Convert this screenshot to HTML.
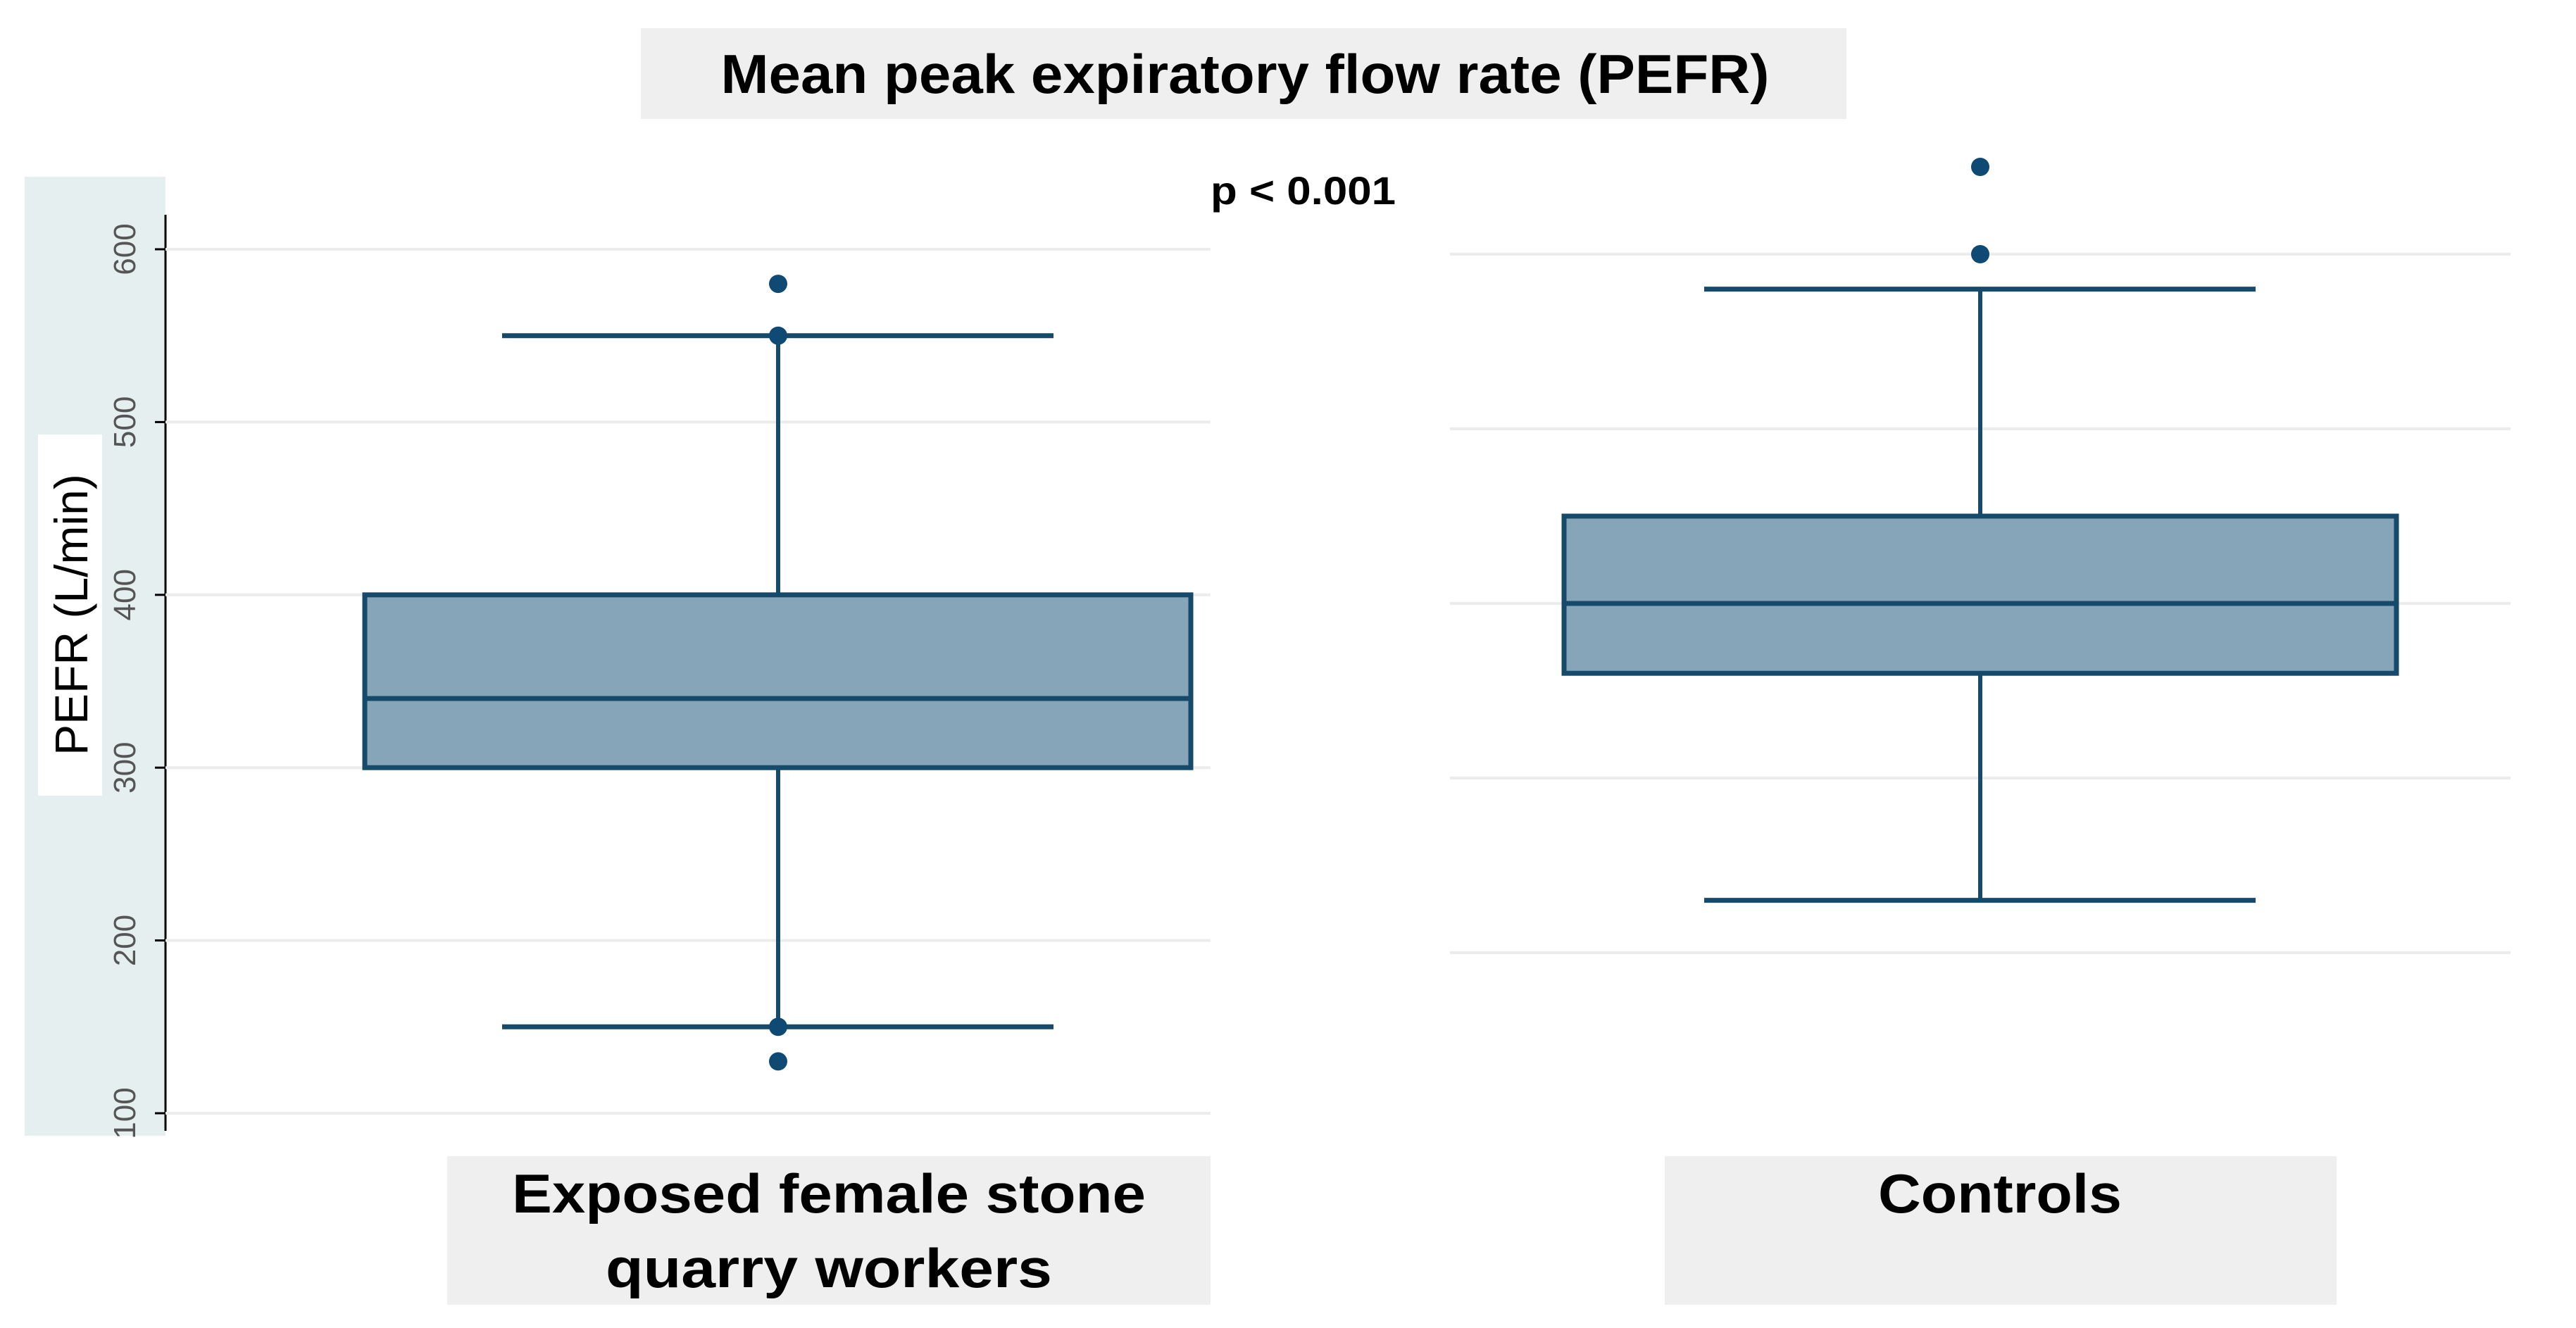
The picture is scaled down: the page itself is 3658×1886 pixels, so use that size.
<!DOCTYPE html>
<html><head><meta charset="utf-8"><style>
html,body{margin:0;padding:0;background:#fff;}
svg{display:block;font-family:"Liberation Sans",sans-serif;}
</style></head><body>
<svg id="chart" width="3658" height="1886" viewBox="0 0 3658 1886" xmlns="http://www.w3.org/2000/svg">
<rect x="910" y="40" width="1712" height="129" fill="#efefef"/>
<text x="1768" y="132" text-anchor="middle" font-size="78" font-weight="bold" textLength="1489" lengthAdjust="spacingAndGlyphs">Mean peak expiratory flow rate (PEFR)</text>
<text x="1719" y="290" font-size="56" font-weight="bold" textLength="263" lengthAdjust="spacingAndGlyphs">p &lt; 0.001</text>
<rect x="35" y="251" width="200" height="1362" fill="#e6eff0"/>
<rect x="54" y="617" width="91" height="513" fill="#ffffff"/>
<text transform="translate(124,873) rotate(-90)" text-anchor="middle" font-size="66">PEFR (L/min)</text>
<line x1="235" y1="305" x2="235" y2="1606" stroke="#000" stroke-width="3"/>
<g id="grid"></g>
<g id="marks"></g>
<rect x="635" y="1642" width="1084" height="211" fill="#efefef"/>
<text x="1177" y="1722" text-anchor="middle" font-size="78" font-weight="bold" textLength="900" lengthAdjust="spacingAndGlyphs">Exposed female stone</text>
<text x="1177" y="1828" text-anchor="middle" font-size="78" font-weight="bold" textLength="634" lengthAdjust="spacingAndGlyphs">quarry workers</text>
<rect x="2364" y="1642" width="954" height="211" fill="#efefef"/>
<text x="2840" y="1722" text-anchor="middle" font-size="78" font-weight="bold" textLength="346" lengthAdjust="spacingAndGlyphs">Controls</text>
</svg>
<script>
const ticks = [100, 200, 300, 400, 500, 600];
const rightGrid = [200, 300, 400, 500, 600];
const groups = ["Exposed", "Controls"];
const q1Vals = [300, 360];
const medVals = [340, 400];
const q3Vals = [400, 450];
const whiskLo = [150, 230];
const whiskHi = [550, 580];
const outliersExposed = [580, 550, 150, 130];
const outliersControls = [650, 600];

const NS = "http://www.w3.org/2000/svg";
function yL(v){ return 1581 - (v - 100) * 2.454; }
function yR(v){ return 361 + (600 - v) * 2.48; }
const panels = [
  {y: yL, cx: 1105, bx0: 518, bx1: 1691, c0: 713, c1: 1496, outs: outliersExposed},
  {y: yR, cx: 2812, bx0: 2221, bx1: 3403, c0: 2420, c1: 3203, outs: outliersControls}
];
function mk(tag, attrs, parent){
  const e = document.createElementNS(NS, tag);
  for (const k in attrs) e.setAttribute(k, attrs[k]);
  parent.appendChild(e);
  return e;
}
const grid = document.getElementById('grid');
const marks = document.getElementById('marks');
ticks.forEach(t => {
  const l = mk('line', {x1: 235, x2: 1719, y1: yL(t), y2: yL(t), stroke: '#ececec', 'stroke-width': 4}, grid);
  
  
  const tk = mk('line', {x1: 220, x2: 235, y1: yL(t), y2: yL(t), stroke: '#000', 'stroke-width': 3}, grid);
  
  
  const tx = mk('text', {transform: 'translate(192,' + yL(t) + ') rotate(-90)', 'text-anchor': 'middle', 'font-size': 44, fill: '#555'}, grid);
  tx.textContent = t;
  
  
});
rightGrid.forEach(t => {
  const l = mk('line', {x1: 2059, x2: 3565, y1: yR(t), y2: yR(t), stroke: '#ececec', 'stroke-width': 4}, grid);
  
  
});
const dark = '#164a6b';
panels.forEach((p, i) => {
  const g = mk('g', {}, marks);
  
  
  const w1 = mk('line', {x1: p.cx, x2: p.cx, y1: p.y(whiskHi[i]), y2: p.y(q3Vals[i]), stroke: dark, 'stroke-width': 6}, g);
  
  
  const w2 = mk('line', {x1: p.cx, x2: p.cx, y1: p.y(q1Vals[i]), y2: p.y(whiskLo[i]), stroke: dark, 'stroke-width': 6}, g);
  
  
  const c1 = mk('line', {x1: p.c0, x2: p.c1, y1: p.y(whiskHi[i]), y2: p.y(whiskHi[i]), stroke: dark, 'stroke-width': 7}, g);
  
  
  const c2 = mk('line', {x1: p.c0, x2: p.c1, y1: p.y(whiskLo[i]), y2: p.y(whiskLo[i]), stroke: dark, 'stroke-width': 7}, g);
  
  
  const r = mk('rect', {x: p.bx0, width: p.bx1 - p.bx0, y: p.y(q3Vals[i]), height: p.y(q1Vals[i]) - p.y(q3Vals[i]), fill: '#86a5b9', stroke: dark, 'stroke-width': 7}, g);
  
  
  const m = mk('line', {x1: p.bx0, x2: p.bx1, y1: p.y(medVals[i]), y2: p.y(medVals[i]), stroke: dark, 'stroke-width': 7}, g);
  
  
  p.outs.forEach(v => {
    const o = mk('circle', {cx: p.cx, cy: p.y(v), r: 13, fill: '#0e4a73'}, g);
    
    
  });
});
</script>
</body></html>
